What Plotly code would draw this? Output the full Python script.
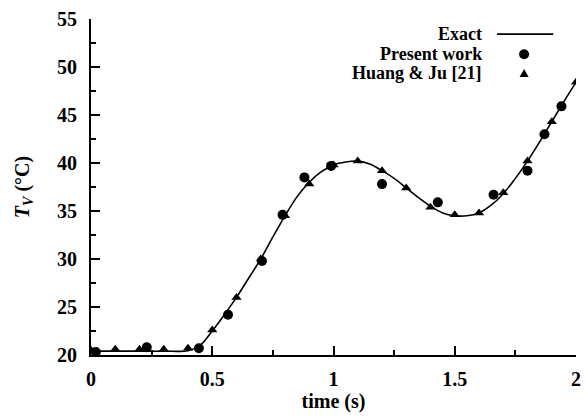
import plotly.graph_objects as go

# Exact solution
exact_t = [0.0, 0.1, 0.2, 0.3, 0.4, 0.45, 0.5, 0.55, 0.6, 0.65, 0.7, 0.75, 0.8, 0.85, 0.9, 0.95,
           1.0, 1.05, 1.1, 1.15, 1.2, 1.25, 1.3, 1.35, 1.4, 1.45, 1.5, 1.55, 1.6, 1.65, 1.7,
           1.75, 1.8, 1.85, 1.9, 1.95, 2.0]
exact_T = [20.4, 20.4, 20.4, 20.4, 20.45, 21.0, 22.5, 24.2, 26.0, 28.0, 30.0, 32.3, 34.5, 36.5,
           38.0, 39.1, 39.8, 40.1, 40.2, 39.9, 39.2, 38.4, 37.4, 36.4, 35.5, 34.8, 34.5, 34.5,
           34.8, 35.6, 36.8, 38.4, 40.2, 42.2, 44.3, 46.4, 48.4]

# Present work (circles)
present_t = [0.02, 0.23, 0.445, 0.565, 0.705, 0.79, 0.88, 0.99, 1.2, 1.43, 1.66, 1.8, 1.87, 1.94]
present_T = [20.3, 20.8, 20.7, 24.2, 29.8, 34.6, 38.5, 39.7, 37.8, 35.9, 36.7, 39.2, 43.0, 45.9]

# Huang & Ju [21] (triangles)
huang_t = [0.0, 0.1, 0.2, 0.3, 0.4, 0.5, 0.6, 0.7, 0.8, 0.9, 1.0, 1.1, 1.2, 1.3, 1.4, 1.5,
           1.6, 1.7, 1.8, 1.9, 2.0]
huang_T = [20.5, 20.6, 20.6, 20.6, 20.7, 22.6, 26.0, 30.0, 34.5, 37.8, 39.8, 40.2, 39.2, 37.4,
           35.4, 34.6, 34.8, 36.9, 40.2, 44.3, 48.4]

legend_labels = ["Exact", "Present work", "Huang &amp; Ju [21]"]
x_ticks = [0, 0.5, 1, 1.5, 2]
x_ticktext = ["0", "0.5", "1", "1.5", "2"]
y_ticks = [20, 25, 30, 35, 40, 45, 50, 55]

FONT = "Liberation Serif"

fig = go.Figure()
fig.add_trace(go.Scatter(x=exact_t, y=exact_T, mode="lines", line=dict(color="black", width=1.6, shape="spline"),
                         showlegend=False))
fig.add_trace(go.Scatter(x=huang_t, y=huang_T, mode="markers",
                         marker=dict(symbol="triangle-up", size=9, color="black"), showlegend=False))
fig.add_trace(go.Scatter(x=present_t, y=present_T, mode="markers",
                         marker=dict(symbol="circle", size=10, color="black"), showlegend=False))

# Manual legend (text left of symbol)
ly = [0.955, 0.895, 0.838]
for lab, yy in zip(legend_labels, ly):
    fig.add_annotation(xref="paper", yref="paper", x=0.81, y=yy, text=lab,
                       showarrow=False, xanchor="right", yanchor="middle",
                       font=dict(family=FONT, size=18, color="black", weight="bold"))
fig.add_shape(type="line", xref="paper", yref="paper", x0=0.837, x1=0.953, y0=ly[0], y1=ly[0],
              line=dict(color="black", width=1.6))
fig.add_shape(type="circle", xref="paper", yref="paper", xsizemode="pixel", ysizemode="pixel",
              xanchor=0.893, yanchor=ly[1], x0=-5, x1=5, y0=-5, y1=5,
              fillcolor="black", line=dict(color="black", width=0))
fig.add_shape(type="path", xref="paper", yref="paper", xsizemode="pixel", ysizemode="pixel",
              xanchor=0.893, yanchor=ly[2], path="M -4.5 -3.5 L 4.5 -3.5 L 0 4.5 Z",
              fillcolor="black", line=dict(color="black", width=0))

axis_common = dict(showline=True, linecolor="black", linewidth=2, ticks="inside", ticklen=9,
                   tickwidth=1.5, tickcolor="black", showgrid=False, zeroline=False,
                   tickfont=dict(family=FONT, size=20, color="black", weight="bold"))

fig.update_xaxes(range=[0, 2], tickvals=x_ticks, ticktext=x_ticktext,
                 minor=dict(tickvals=[0.25, 0.75, 1.25, 1.75], ticks="inside", ticklen=5, tickwidth=1.5, tickcolor="black"),
                 title=dict(text="time (s)", font=dict(family=FONT, size=20, color="black", weight="bold"), standoff=2),
                 ticklabelstandoff=5, **axis_common)
fig.update_yaxes(range=[20, 55], tickvals=y_ticks,
                 minor=dict(tickvals=[22.5, 27.5, 32.5, 37.5, 42.5, 47.5, 52.5], ticks="inside", ticklen=5, tickwidth=1.5, tickcolor="black"),
                 title=dict(text="<i>T<sub>V</sub></i> (°C)", font=dict(family=FONT, size=20, color="black", weight="bold"), standoff=22),
                 ticklabelstandoff=8, **axis_common)

fig.update_layout(width=586, height=417, margin=dict(l=91, r=10, t=19, b=62, autoexpand=False),
                  plot_bgcolor="white", paper_bgcolor="white")

fig.write_html("out.html")
